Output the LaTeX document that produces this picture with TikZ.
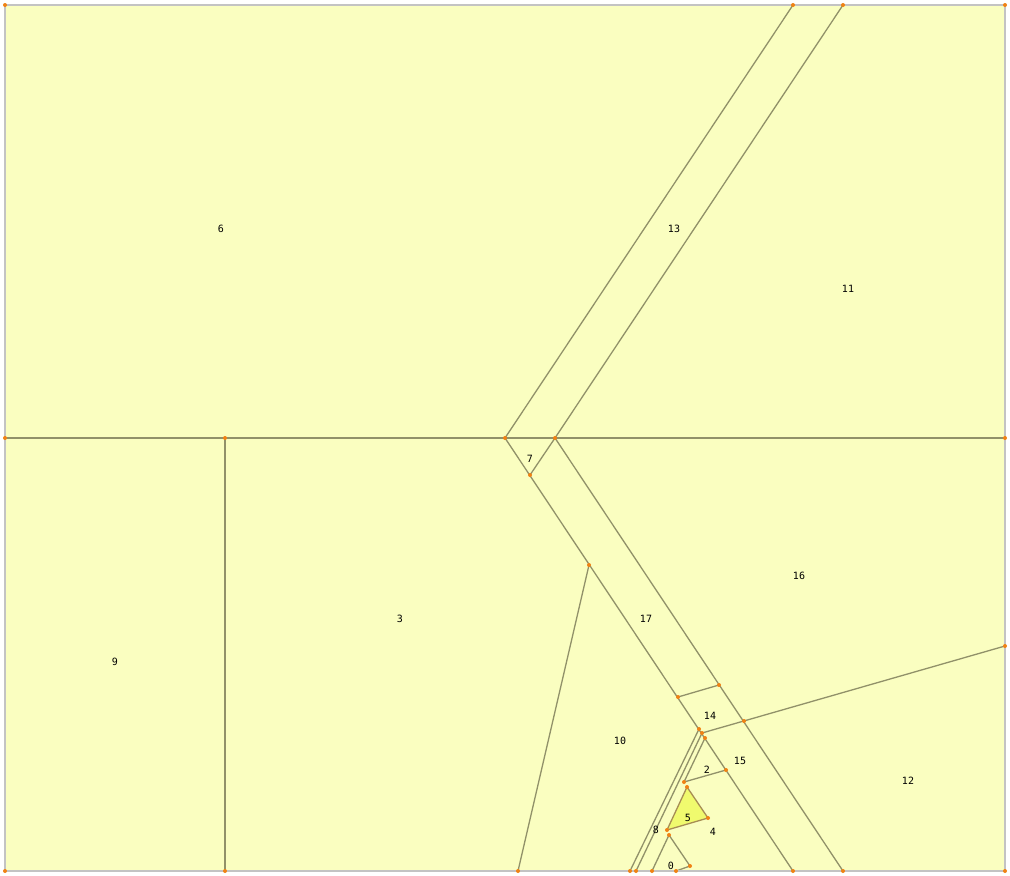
\documentclass[tikz,border=0pt]{standalone}
\usepackage{fontspec}
\setmonofont{DejaVu Sans Mono}
\usepackage{tikz}
\usetikzlibrary{calc}
\definecolor{cellfill}{RGB}{250,254,192}
\definecolor{hotfill}{RGB}{240,250,110}
\definecolor{edgecol}{RGB}{145,145,105}
\definecolor{framecol}{RGB}{195,195,195}
\definecolor{dotcol}{RGB}{240,130,20}

\begin{document}
\begin{tikzpicture}[
  x=1pt, y=-1pt,
  edge/.style={draw=edgecol, line width=1.3pt},
  frame/.style={draw=framecol, line width=1.5pt, fill=cellfill},
  hot/.style={draw=edgecol!80!orange, line width=1.3pt, fill=hotfill},
  lbl/.style={font=\ttfamily\fontsize{10}{11}\selectfont, inner sep=0pt},
  dot/.style={fill=dotcol, draw=none}]
  \useasboundingbox (0,0) rectangle (1010,876);
  % vertices
  \coordinate (a) at (5,5);      \coordinate (b) at (1005,5);
  \coordinate (c) at (1005,871); \coordinate (d) at (5,871);
  \coordinate (t1) at (793,5);   \coordinate (t2) at (843,5);
  \coordinate (h0) at (5,438);   \coordinate (h1) at (225,438);
  \coordinate (h2) at (505,438); \coordinate (h3) at (555,438);
  \coordinate (h4) at (1005,438);
  \coordinate (v1) at (225,871);
  \coordinate (p7) at (530,475);
  \coordinate (b1) at (793,871); \coordinate (b2) at (843,871);
  \coordinate (q) at (589,565);  \coordinate (q0) at (518,871);
  \coordinate (r1) at (678,697); \coordinate (r2) at (719,685);
  \coordinate (s1) at (744,721); \coordinate (s2) at (1005,646);
  \coordinate (u1) at (699,729); \coordinate (u2) at (702,733);
  \coordinate (u3) at (705,738);
  \coordinate (w1) at (630,871); \coordinate (w2) at (636,871);
  \coordinate (k1) at (726,770); \coordinate (k2) at (684,782);
  \coordinate (f1) at (687,787); \coordinate (f2) at (708,818);
  \coordinate (f3) at (667,830);
  \coordinate (z1) at (669,835); \coordinate (z2) at (690,866);
  \coordinate (z3) at (676,871); \coordinate (z4) at (652,871);

  \path[frame] (a) rectangle (c);
  \path[hot] (f1) -- (f2) -- (f3) -- cycle;

  % edges
  \draw[edge] (h0) -- (h4);
  \draw[edge] (h1) -- (v1);
  \draw[edge] (h2) -- (t1);
  \draw[edge] (h3) -- (t2);
  \draw[edge] (h2) -- (b1);
  \draw[edge] (h3) -- (b2);
  \draw[edge] (h3) -- (p7);
  \draw[edge] (q) -- (q0);
  \draw[edge] (r1) -- (r2);
  \draw[edge] (u2) -- (s2);
  \draw[edge] (u1) -- (w1);
  \draw[edge] (u2) -- (w2);
  \draw[edge] (u3) -- (k2) -- (k1);
  \draw[edge] (z4) -- (z1) -- (z2) -- (z3);
  \path[frame, fill=none] (a) rectangle (c);

  % vertex dots
  \foreach \v in {a,b,c,d,t1,t2,h0,h1,h2,h3,h4,v1,p7,b1,b2,q,q0,r1,r2,s1,s2,
    u1,u2,u3,w1,w2,k1,k2,f1,f2,f3,z1,z2,z3,z4}
    \fill[dot] (\v) circle (2);

  % cell labels
  \node[lbl] (n0) at (671,866) {0};
  \node[lbl] (n2) at (707,770) {2};
  \node[lbl] (n3) at (400,619) {3};
  \node[lbl] (n4) at (713,832) {4};
  \node[lbl] (n5) at (688,818) {5};
  \node[lbl] (n6) at (221,229) {6};
  \node[lbl] (n7) at (530,459) {7};
  \node[lbl] (n8) at (656,830) {8};
  \node[lbl] (n9) at (115,662) {9};
  \node[lbl] (n10) at (620,741) {10};
  \node[lbl] (n11) at (848,289) {11};
  \node[lbl] (n12) at (908,781) {12};
  \node[lbl] (n13) at (674,229) {13};
  \node[lbl] (n14) at (710,716) {14};
  \node[lbl] (n15) at (740,761) {15};
  \node[lbl] (n16) at (799,576) {16};
  \node[lbl] (n17) at (646,619) {17};
\end{tikzpicture}
\end{document}
